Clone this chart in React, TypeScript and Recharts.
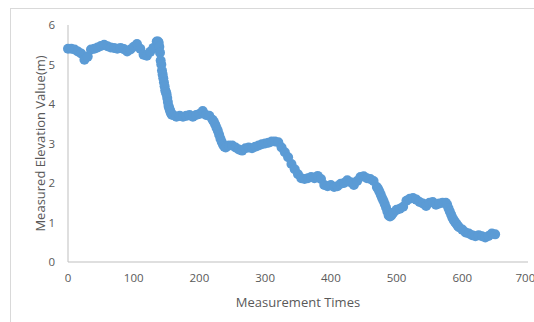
import { ScatterChart, Scatter, XAxis, YAxis } from "recharts";

const measurementTimes = [
  0, 5, 10, 15, 20, 25, 30, 35, 40, 45, 50, 55, 60, 65, 70, 75, 80, 85, 90, 95,
  100, 105, 110, 115, 120, 125, 130, 135,
  137, 138, 139, 140, 141, 142, 143, 144, 145, 146, 147, 148, 149, 150, 151, 152,
  153, 154, 155, 156, 157, 158, 160,
  165, 170, 175, 180, 185, 190, 195, 200, 205, 210, 215, 220,
  222, 224, 226, 228, 230, 232, 234, 236, 238, 240,
  245, 250, 255, 260, 265, 270, 275, 280, 285, 290, 295, 300, 305, 310, 315, 320,
  325, 330, 335, 340, 345, 350, 355, 360, 365, 370, 375, 380, 385, 390, 395, 400,
  405, 410, 415, 420, 425, 430, 435, 440, 445, 450, 455, 460, 465, 470,
  472, 474, 476, 478, 480, 482, 484, 486, 488, 490, 492, 495,
  500, 505, 510, 515, 520, 525, 530, 535, 540, 545, 550, 555, 560, 565, 570, 575,
  577, 579, 581, 583, 585, 587, 589, 591, 593, 595,
  600, 605, 610, 615, 620, 625, 630, 635, 640, 645, 650,
];

const elevations = [
  5.4, 5.4, 5.38, 5.33, 5.28, 5.12, 5.2, 5.38, 5.4, 5.43, 5.47, 5.5, 5.46, 5.43, 5.42, 5.4, 5.42, 5.39, 5.33, 5.38,
  5.45, 5.52, 5.4, 5.25, 5.22, 5.32, 5.42, 5.58,
  5.58, 5.55, 5.45, 5.3, 5.1, 5.0, 4.85, 4.75, 4.65, 4.55, 4.45, 4.35, 4.3, 4.25, 4.15, 4.05,
  3.95, 3.9, 3.85, 3.8, 3.76, 3.73, 3.72,
  3.68, 3.7, 3.68, 3.7, 3.72, 3.68, 3.72, 3.75, 3.82, 3.72, 3.7, 3.6,
  3.55, 3.48, 3.4, 3.32, 3.22, 3.12, 3.04, 2.97, 2.92, 2.9,
  2.95, 2.95, 2.9, 2.85, 2.82, 2.88, 2.9, 2.88, 2.92, 2.95, 2.98, 3.0, 3.02, 3.05, 3.05, 3.03,
  2.9, 2.78, 2.65, 2.48, 2.35, 2.22, 2.12, 2.1, 2.12, 2.15, 2.12, 2.18, 2.1, 1.95, 1.92, 1.95,
  1.9, 1.92, 1.98, 2.0, 2.07, 2.02, 1.95, 2.05, 2.15, 2.17, 2.12, 2.1, 2.05, 1.9,
  1.85, 1.78, 1.7, 1.62, 1.55, 1.47, 1.38, 1.28, 1.18, 1.15, 1.18, 1.25,
  1.32, 1.35, 1.4, 1.55, 1.6, 1.62, 1.58, 1.52, 1.48, 1.42, 1.5, 1.52, 1.45, 1.48, 1.5, 1.5,
  1.45, 1.36, 1.28, 1.2, 1.12, 1.06, 1.01, 0.97, 0.92, 0.88,
  0.82, 0.75, 0.72, 0.68, 0.65, 0.68, 0.65, 0.62, 0.66, 0.72, 0.7,
];

const xTicks = [0, 100, 200, 300, 400, 500, 600, 700];
const yTicks = [0, 1, 2, 3, 4, 5, 6];

const points = measurementTimes.map((t, i) => ({ time: t, value: elevations[i] }));

const font = "'Open Sans', sans-serif";
const tickStyle = { fontSize: 11.5, fill: "#595959", fontFamily: font };
const labelStyle = { fontSize: 13, fill: "#595959", fontFamily: font };

// fat round markers so the dense points merge into one band
const Dot = (props: any) => <circle cx={props.cx} cy={props.cy} r={5} fill="#5b9bd5" />;

const App = () => {
  return (
    <div
      style={{
        position: "absolute",
        left: 10,
        top: 8,
        width: 524,
        height: 313,
        borderLeft: "1px solid #d9d9d9",
        borderTop: "1px solid #d9d9d9",
        borderBottom: "1px solid #d9d9d9",
        overflow: "hidden",
        background: "#fff",
      }}
    >
      <ScatterChart width={523} height={312} margin={{ top: 16, right: 6, bottom: 0, left: 0 }}>
        <XAxis
          type="number"
          dataKey="time"
          domain={[0, 700]}
          ticks={xTicks}
          tickLine={false}
          axisLine={{ stroke: "#bfbfbf" }}
          tick={tickStyle}
          tickMargin={6}
          height={59}
          label={{ value: "Measurement Times", position: "insideBottom", offset: 14, style: labelStyle }}
        />
        <YAxis
          type="number"
          dataKey="value"
          domain={[0, 6]}
          ticks={yTicks}
          tickLine={false}
          axisLine={{ stroke: "#bfbfbf" }}
          tick={tickStyle}
          tickMargin={7}
          width={57}
          label={{
            value: "Measured Elevation Value(m)",
            angle: -90,
            position: "insideLeft",
            offset: 29,
            style: { ...labelStyle, textAnchor: "middle" },
          }}
        />
        <Scatter data={points} shape={Dot} isAnimationActive={false} />
      </ScatterChart>
    </div>
  );
};

export default App;
